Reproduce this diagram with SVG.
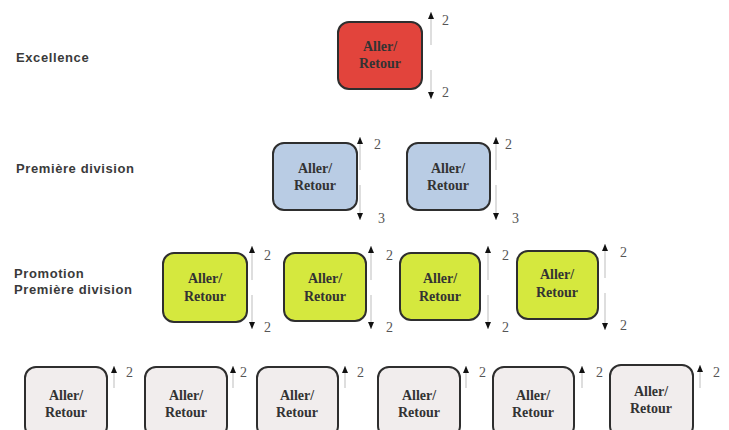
<svg xmlns="http://www.w3.org/2000/svg" width="729" height="430" viewBox="0 0 729 430">
<style>
.lbl{font-family:"Liberation Sans",Arial,sans-serif;font-size:13px;font-weight:bold;fill:#3a3a3a;letter-spacing:0.6px}
.box{stroke:#2e2e2e;stroke-width:2}
.red{fill:#e2443c}
.blue{fill:#b9cce4}
.green{fill:#d5e83e}
.grey{fill:#f1eded}
.bt{font-family:"Liberation Serif","Times New Roman",serif;font-size:14px;font-weight:bold;fill:#333;text-anchor:middle}
.num{font-family:"Liberation Serif","Times New Roman",serif;font-size:14px;fill:#555}
.arr{stroke:#bdbdbd;stroke-width:1;fill:none;marker-end:url(#ah)}
</style>
<defs>
<marker id="ah" markerUnits="userSpaceOnUse" markerWidth="7" markerHeight="6" viewBox="0 0 7 6" refX="7" refY="3" orient="auto">
<path d="M0,0 L7,3 L0,6 Z" fill="#111"/>
</marker>
</defs>
<rect width="729" height="430" fill="#fff"/>
<g id="labels">
<text class="lbl" x="16" y="62">Excellence</text>
<text class="lbl" x="16" y="173">Première division</text>
<text class="lbl" x="14" y="278">Promotion</text>
<text class="lbl" x="14" y="294">Première division</text>
</g>
<g id="connectors">
<path class="arr" d="M431,45 V12"/>
<path class="arr" d="M431,70 V99"/>
<path class="arr" d="M360,170 V137"/>
<path class="arr" d="M360,185 V220"/>
<path class="arr" d="M496,170 V137"/>
<path class="arr" d="M496,185 V220"/>
<path class="arr" d="M252,280 V246"/>
<path class="arr" d="M252,295 V329"/>
<path class="arr" d="M371,280 V246"/>
<path class="arr" d="M371,295 V329"/>
<path class="arr" d="M488,280 V246"/>
<path class="arr" d="M488,295 V329"/>
<path class="arr" d="M605,278 V244"/>
<path class="arr" d="M605,293 V330"/>
<path class="arr" d="M114,388 V366"/>
<path class="arr" d="M233,388 V366"/>
<path class="arr" d="M345,388 V366"/>
<path class="arr" d="M466,388 V366"/>
<path class="arr" d="M582,388 V366"/>
<path class="arr" d="M700,388 V365"/>
</g>
<g id="numbers">
<text class="num" x="442" y="25">2</text>
<text class="num" x="442" y="97">2</text>
<text class="num" x="374" y="149">2</text>
<text class="num" x="378" y="223">3</text>
<text class="num" x="505" y="149">2</text>
<text class="num" x="512" y="223">3</text>
<text class="num" x="264" y="260">2</text>
<text class="num" x="264" y="332">2</text>
<text class="num" x="386" y="260">2</text>
<text class="num" x="386" y="332">2</text>
<text class="num" x="502" y="260">2</text>
<text class="num" x="502" y="332">2</text>
<text class="num" x="620" y="257">2</text>
<text class="num" x="620" y="330">2</text>
<text class="num" x="126" y="377">2</text>
<text class="num" x="240" y="377">2</text>
<text class="num" x="357" y="377">2</text>
<text class="num" x="479" y="377">2</text>
<text class="num" x="596" y="377">2</text>
<text class="num" x="713" y="377">2</text>
</g>
<g id="n-excellence">
<rect class="box red" x="338" y="22" width="84" height="67" rx="11"/>
<text class="bt" x="380" y="51">Aller/</text><text class="bt" x="380" y="68">Retour</text>
</g>
<g id="n-d1-1">
<rect class="box blue" x="273" y="143" width="84" height="67" rx="11"/>
<text class="bt" x="315" y="173">Aller/</text><text class="bt" x="315" y="190">Retour</text>
</g>
<g id="n-d1-2">
<rect class="box blue" x="407" y="143" width="83" height="67" rx="11"/>
<text class="bt" x="448" y="173">Aller/</text><text class="bt" x="448" y="190">Retour</text>
</g>
<g id="n-p1-1">
<rect class="box green" x="163" y="253" width="84" height="69" rx="11"/>
<text class="bt" x="205" y="283">Aller/</text><text class="bt" x="205" y="301">Retour</text>
</g>
<g id="n-p1-2">
<rect class="box green" x="284" y="253" width="82" height="68" rx="11"/>
<text class="bt" x="325" y="283">Aller/</text><text class="bt" x="325" y="301">Retour</text>
</g>
<g id="n-p1-3">
<rect class="box green" x="400" y="253" width="80" height="67" rx="11"/>
<text class="bt" x="440" y="283">Aller/</text><text class="bt" x="440" y="301">Retour</text>
</g>
<g id="n-p1-4">
<rect class="box green" x="517" y="251" width="81" height="68" rx="11"/>
<text class="bt" x="557" y="279">Aller/</text><text class="bt" x="557" y="297">Retour</text>
</g>
<g id="n-r4-1">
<rect class="box grey" x="25" y="367" width="82" height="70" rx="11"/>
<text class="bt" x="66" y="400">Aller/</text><text class="bt" x="66" y="417">Retour</text>
</g>
<g id="n-r4-2">
<rect class="box grey" x="145" y="367" width="82" height="70" rx="11"/>
<text class="bt" x="186" y="400">Aller/</text><text class="bt" x="186" y="417">Retour</text>
</g>
<g id="n-r4-3">
<rect class="box grey" x="257" y="367" width="81" height="70" rx="11"/>
<text class="bt" x="297" y="400">Aller/</text><text class="bt" x="297" y="417">Retour</text>
</g>
<g id="n-r4-4">
<rect class="box grey" x="378" y="367" width="82" height="70" rx="11"/>
<text class="bt" x="419" y="400">Aller/</text><text class="bt" x="419" y="417">Retour</text>
</g>
<g id="n-r4-5">
<rect class="box grey" x="493" y="367" width="81" height="70" rx="11"/>
<text class="bt" x="533" y="400">Aller/</text><text class="bt" x="533" y="417">Retour</text>
</g>
<g id="n-r4-6">
<rect class="box grey" x="610" y="365" width="83" height="72" rx="11"/>
<text class="bt" x="651" y="396">Aller/</text><text class="bt" x="651" y="413">Retour</text>
</g>
</svg>
